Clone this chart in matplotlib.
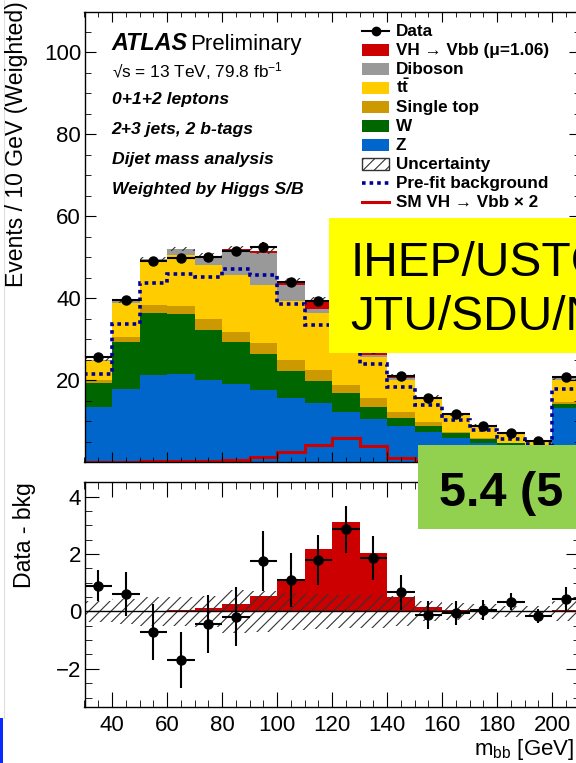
import numpy as np
import matplotlib
matplotlib.use('Agg')
import matplotlib.pyplot as plt
from matplotlib.patches import Rectangle
from matplotlib.ticker import MultipleLocator, FixedLocator

plt.rcParams['font.family'] = ['Liberation Sans', 'DejaVu Sans']
plt.rcParams['mathtext.fontset'] = 'custom'
plt.rcParams['mathtext.rm'] = 'Liberation Sans'
plt.rcParams['mathtext.it'] = 'Liberation Sans:italic'
plt.rcParams['mathtext.bf'] = 'Liberation Sans:bold'
plt.rcParams['hatch.linewidth'] = 0.8

# m_bb bins, 10 GeV wide
edges = np.arange(30, 211, 10)
centers = edges[:-1] + 5

# stacked post-fit components (events / 10 GeV, weighted)
z_jets     = [13.6, 17.8, 21.3, 21.5, 20.1, 19.1, 17.6, 15.6, 14.5, 12.3, 10.6, 8.85, 7.5, 5.85, 4.6, 3.7, 3.0, 13.2]
w_jets     = [5.8, 11.5, 15.2, 14.7, 12.2, 10.3, 8.8, 6.7, 5.4, 4.5, 3.0, 1.85, 1.35, 1.25, 1.0, 0.9, 0.7, 1.0]
single_top = [0.6, 1.2, 1.9, 1.9, 2.6, 2.5, 2.6, 2.6, 2.6, 2.1, 2.0, 1.6, 0.9, 0.4, 0.3, 0.2, 0.2, 0.6]
ttbar      = [4.7, 8.4, 10.5, 12.6, 13.2, 13.8, 14.2, 14.5, 14.0, 12.0, 10.0, 7.9, 5.85, 4.0, 3.0, 2.1, 1.1, 5.4]
diboson    = [0.3, 0.4, 0.6, 1.3, 2.2, 6.1, 7.9, 3.8, 1.0, 0.8, 0.5, 0.3, 0.2, 0.1, 0.1, 0.1, 0.05, 0.3]
vh_signal  = [0.01, 0.02, 0.03, 0.05, 0.13, 0.25, 0.52, 1.10, 2.18, 3.11, 2.03, 0.49, 0.15, 0.05, 0.03, 0.02, 0.02, 0.05]
bkg_unc    = [0.38, 0.45, 0.5, 0.5, 0.55, 0.75, 0.7, 0.65, 0.6, 0.58, 0.58, 0.52, 0.35, 0.3, 0.25, 0.2, 0.2, 0.35]

prefit_bkg = [21.5, 33.8, 43.7, 45.9, 45.3, 47.1, 45.8, 38.6, 33.6, 29.5, 24.1, 18.4, 14.0, 10.3, 7.9, 5.8, 4.5, 17.8]
sm_vh_x2   = [0.1, 0.15, 0.2, 0.3, 0.4, 0.6, 1.2, 2.4, 4.3, 5.9, 3.9, 1.1, 0.4, 0.2, 0.1, 0.1, 0.1, 0.2]

data       = [25.6, 39.6, 49.1, 49.9, 50.0, 51.6, 52.6, 44.0, 39.4, 34.6, 28.0, 21.1, 15.8, 11.8, 8.9, 7.1, 5.2, 20.9]
data_sub   = [0.90, 0.61, -0.72, -1.69, -0.44, -0.18, 1.76, 1.10, 1.79, 2.86, 1.87, 0.66, -0.12, -0.06, 0.05, 0.34, -0.16, 0.43]
data_err   = [0.55, 0.78, 0.97, 0.99, 1.0, 1.03, 1.05, 0.93, 0.88, 0.82, 0.76, 0.6, 0.5, 0.41, 0.36, 0.29, 0.24, 0.42]

W, H = 576, 763
fig = plt.figure(figsize=(W / 100, H / 100), dpi=100)


def px_axes(left, top, right, bottom):
    return fig.add_axes([left / W, 1 - bottom / H, (right - left) / W, (bottom - top) / H])


ax = px_axes(84.5, 11.5, 579.5, 462.3)
ax2 = px_axes(84.5, 481.7, 579.5, 706.7)

# ---- upper panel: stack
colors = ['#0066cc', '#006600', '#cc9900', '#ffcc00', '#999999', '#cc0000']
bottom = np.zeros(len(centers))
for vals, col in zip([z_jets, w_jets, single_top, ttbar, diboson, vh_signal], colors):
    vals = np.array(vals)
    ax.stairs(bottom + vals, edges, baseline=bottom, fill=True, color=col, lw=0)
    bottom = bottom + vals
unc = np.array(bkg_unc)
ax.stairs(bottom + unc, edges, baseline=bottom - unc, fill=True, facecolor='none',
          edgecolor='#333333', hatch='///', lw=0)
ax.stairs(prefit_bkg, edges, baseline=None, color='#000099', lw=2.6, ls=(0, (1, 1.1)))
ax.stairs(sm_vh_x2, edges, baseline=None, color='#cc0000', lw=2.2)
ax.errorbar(centers, data, yerr=data_err, xerr=5, fmt='o', color='k', ms=6.5,
            elinewidth=1.5, capsize=0)

ax.set_xlim(30, 210)
ax.set_ylim(0, 110)
ax.yaxis.set_major_locator(FixedLocator([20, 40, 60, 80, 100]))
ax.yaxis.set_minor_locator(MultipleLocator(5))
ax.xaxis.set_major_locator(MultipleLocator(20))
ax.xaxis.set_minor_locator(MultipleLocator(5))
ax.tick_params(which='both', direction='in', top=True, right=True, labelbottom=False,
               labelsize=16, pad=2.5)
ax.tick_params(axis='y', which='major', length=8)
ax.tick_params(axis='y', which='minor', length=4.5)
ax.tick_params(axis='x', which='major', length=7)
ax.tick_params(axis='x', which='minor', length=3.5)

# ---- lower panel: data - background
ax2.stairs(vh_signal, edges, fill=True, color='#cc0000', lw=0)
ax2.stairs(unc, edges, baseline=-unc, fill=True, facecolor='none',
           edgecolor='#333333', hatch='///', lw=0)
ax2.axhline(0, color='k', lw=1)
ax2.errorbar(centers, data_sub, yerr=data_err, xerr=5, fmt='o', color='k', ms=6.5,
             elinewidth=1.5, capsize=0)
ax2.set_xlim(30, 210)
ax2.set_ylim(-3.32, 4.52)
ax2.yaxis.set_major_locator(FixedLocator([-2, 0, 2, 4]))
ax2.yaxis.set_minor_locator(MultipleLocator(0.5))
ax2.xaxis.set_major_locator(MultipleLocator(20))
ax2.xaxis.set_minor_locator(MultipleLocator(5))
ax2.tick_params(which='both', direction='in', top=True, right=True, labelsize=16, pad=2.5)
ax2.tick_params(axis='x', which='major', length=11, pad=6)
ax2.tick_params(axis='x', which='minor', length=5)
ax2.tick_params(axis='y', which='major', length=10)
ax2.tick_params(axis='y', which='minor', length=5)

for a in (ax, ax2):
    for s in a.spines.values():
        s.set_linewidth(1.0)

# ---- overlay in pixel coordinates
ov = fig.add_axes([0, 0, 1, 1], zorder=10)
ov.set_xlim(0, W)
ov.set_ylim(H, 0)
ov.axis('off')
ov.patch.set_alpha(0)

ov.text(17, 1, 'Events / 10 GeV (Weighted)', rotation=90, ha='center', va='top', fontsize=16.6)
ov.text(25, 535, 'Data - bkg', rotation=90, ha='center', va='center', fontsize=16.6)
ov.text(574, 755, r'm$_{\rm bb}$ [GeV]', ha='right', va='baseline', fontsize=16)

ov.text(111.7, 50, 'ATLAS', fontsize=16.8, weight='bold', style='italic', va='baseline')
ov.text(190.5, 50, 'Preliminary', fontsize=16, va='baseline')
ov.text(111.7, 77.3, '\u221as = 13 TeV, 79.8 fb$^{-1}$', fontsize=12.4, va='baseline')
for i, line in enumerate(['0+1+2 leptons', '2+3 jets, 2 b-tags', 'Dijet mass analysis',
                          'Weighted by Higgs S/B']):
    ov.text(111.7, 104 + 30 * i, line, fontsize=12.6, weight='bold', style='italic', va='baseline')

# legend
labels = ['Data', 'VH \u2192 Vbb (\u03bc=1.06)', 'Diboson', r'$\mathbf{t\bar{t}}$', 'Single top',
          'W', 'Z', 'Uncertainty', 'Pre-fit background', 'SM VH \u2192 Vbb \u00d7 2']
x0, x1 = 362, 389
for i, lab in enumerate(labels):
    yc = 30.5 + 19 * i
    ov.text(395.7, yc + 5.3, lab, fontsize=12.3, weight='bold', va='baseline')
    if i == 0:
        ov.plot([x0, x1], [yc, yc], color='k', lw=1.5)
        ov.plot([(x0 + x1) / 2], [yc], 'o', color='k', ms=6)
    elif 1 <= i <= 6:
        ov.add_patch(Rectangle((x0, yc - 6), x1 - x0, 12, color=colors[::-1][i - 1], lw=0))
    elif i == 7:
        ov.add_patch(Rectangle((x0, yc - 6), x1 - x0, 12, facecolor='white', edgecolor='#333333',
                               hatch='///', lw=1))
    elif i == 8:
        ov.plot([x0, x1], [yc, yc], color='#000099', lw=2.6, ls=(0, (1, 1.1)))
    else:
        ov.plot([x0, x1], [yc, yc], color='#cc0000', lw=2.2)

# slide overlays (cropped at the right edge, as in the reference)
ov.add_patch(Rectangle((329, 218), 260, 135, color='#ffff00', lw=0))
ov.text(351, 276, 'IHEP/USTC', fontsize=34.5, va='baseline')
ov.text(350, 330, 'JTU/SDU/N', fontsize=34.5, va='baseline')
ov.add_patch(Rectangle((418, 445), 170, 84, color='#92d050', lw=0))
ov.text(439, 506, '5.4 (5', fontsize=35, weight='bold', va='baseline')
ov.add_patch(Rectangle((0, 718), 3.3, 45, color='#0a2bff', lw=0))
ov.plot([3.5, 3.5], [0, 718], color='#dddddd', lw=0.8)

fig.savefig('out.png', dpi=100)
